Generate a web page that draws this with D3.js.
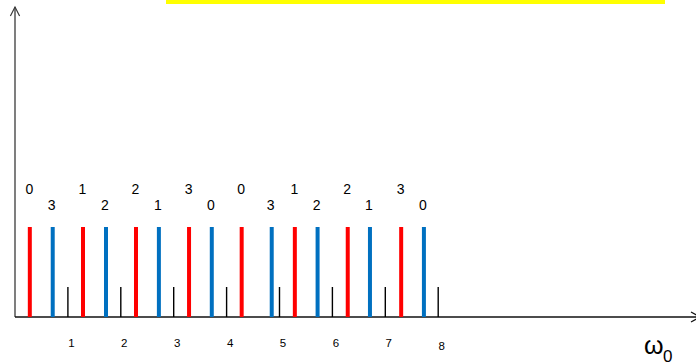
<!DOCTYPE html>
<html>
<head>
<meta charset="utf-8">
<script src="https://cdn.jsdelivr.net/npm/d3@7/dist/d3.min.js"></script>
<style>
  html, body { margin: 0; padding: 0; background: #fff; }
  svg { display: block; }
</style>
</head>
<body>
<svg id="chart" width="696" height="364"></svg>
<script>
// ---- data ----
const tickValues = [1, 2, 3, 4, 5, 6, 7, 8];
const tickLabels = ["1", "2", "3", "4", "5", "6", "7", "8"];
const redPositions = [0.28, 1.285, 2.287, 3.29, 4.285, 5.29, 6.29, 7.30];
const redLabels = ["0", "1", "2", "3", "0", "1", "2", "3"];
const bluePositions = [0.713, 1.72, 2.72, 3.72, 4.853, 5.72, 6.71, 7.73];
const blueLabels = ["3", "2", "1", "0", "3", "2", "1", "0"];
const colorAmplitude = 3;
const blackAmplitude = 1;
const axisLabel = "ω";
const axisLabelSub = "0";

// ---- layout ----
const svg = d3.select("#chart");
const originX = 15, baseY = 317;
const x = d3.scaleLinear().domain([0, 8]).range([originX, originX + 8 * 52.9]);
const y = d3.scaleLinear().domain([0, 1]).range([baseY, baseY - 30]);

// yellow band at top
svg.append("rect").attr("x", 166).attr("y", 0).attr("width", 499).attr("height", 4)
  .attr("fill", "#FFFF00");

// y axis
svg.append("line").attr("x1", originX).attr("x2", originX).attr("y1", baseY).attr("y2", 7)
  .attr("stroke", "#3a3a3a").attr("stroke-width", 1.3);
svg.append("path").attr("d", `M${originX - 4.6},16 L${originX},7 L${originX + 4.6},16`)
  .attr("fill", "none").attr("stroke", "#3a3a3a").attr("stroke-width", 1.2);

// x axis
svg.append("line").attr("x1", originX).attr("x2", 700).attr("y1", baseY).attr("y2", baseY)
  .attr("stroke", "#111").attr("stroke-width", 1.4);
svg.append("path").attr("d", `M691,${baseY - 5} L700,${baseY} L691,${baseY + 5}`)
  .attr("fill", "none").attr("stroke", "#111").attr("stroke-width", 1.2);

// black ticks
svg.append("g").selectAll("line").data(tickValues).join("line")
  .attr("x1", d => x(d)).attr("x2", d => x(d))
  .attr("y1", y(0)).attr("y2", y(blackAmplitude))
  .attr("stroke", "#000").attr("stroke-width", 1.4);

// tick labels
svg.append("g").selectAll("text").data(tickValues).join("text")
  .attr("x", d => x(d) + 3.5)
  .attr("y", (d, i) => i === tickValues.length - 1 ? 350 : 347)
  .attr("text-anchor", "middle")
  .attr("font-family", "Liberation Sans, Arial, sans-serif")
  .attr("font-size", 11.5)
  .attr("fill", "#000")
  .text((d, i) => tickLabels[i]);

// red bars
svg.append("g").selectAll("line").data(redPositions).join("line")
  .attr("x1", d => x(d)).attr("x2", d => x(d))
  .attr("y1", y(0)).attr("y2", y(colorAmplitude))
  .attr("stroke", "#FF0000").attr("stroke-width", 4);

// blue bars
svg.append("g").selectAll("line").data(bluePositions).join("line")
  .attr("x1", d => x(d)).attr("x2", d => x(d))
  .attr("y1", y(0)).attr("y2", y(colorAmplitude))
  .attr("stroke", "#0070C0").attr("stroke-width", 4);

// labels
const lblFont = "Liberation Sans, Arial, sans-serif";
svg.append("g").selectAll("text").data(redPositions).join("text")
  .attr("x", d => x(d) - 0.5).attr("y", 194)
  .attr("text-anchor", "middle").attr("font-family", lblFont).attr("font-size", 14)
  .attr("fill", "#000")
  .text((d, i) => redLabels[i]);
svg.append("g").selectAll("text").data(bluePositions).join("text")
  .attr("x", d => x(d) - 1).attr("y", 209.5)
  .attr("text-anchor", "middle").attr("font-family", lblFont).attr("font-size", 14)
  .attr("fill", "#000")
  .text((d, i) => blueLabels[i]);

// axis label ω0
const t = svg.append("text").attr("x", 644).attr("y", 354)
  .attr("font-family", "Liberation Sans, Arial, sans-serif").attr("fill", "#000");
t.append("tspan").attr("font-size", 25).text(axisLabel);
t.append("tspan").attr("font-size", 17).attr("x", 663).attr("y", 361.5).text(axisLabelSub);
</script>
</body>
</html>
